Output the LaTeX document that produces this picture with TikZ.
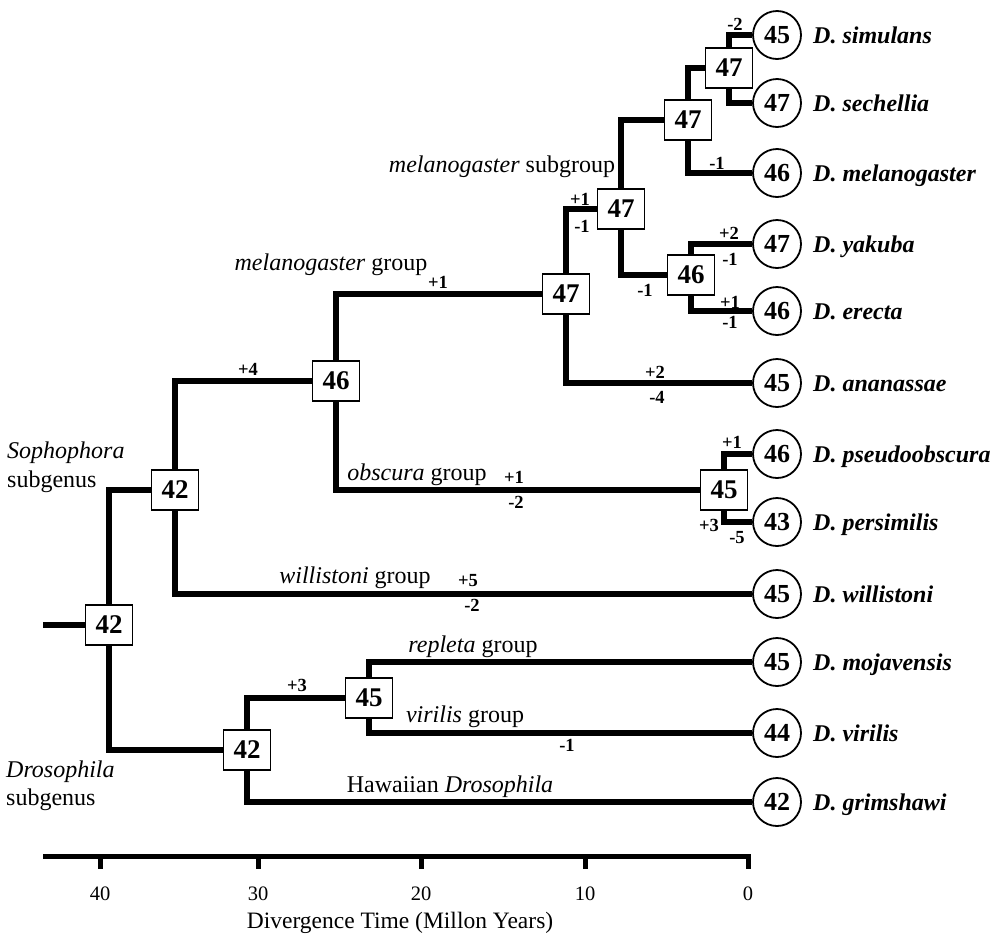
\documentclass[tikz,border=0pt]{standalone}
\usepackage{fontspec}
\setmainfont{Liberation Serif}
\begin{document}
\begin{tikzpicture}[x=1pt,y=-1pt,
  br/.style={line width=5.5pt, line join=miter},
  brk/.style={line width=6.3pt, line join=miter},
  bx/.style={draw, line width=1.8pt, fill=white, minimum width=47pt, minimum height=40pt, inner sep=0pt, font=\fontsize{27}{28}\selectfont\bfseries},
  lf/.style={draw, circle, line width=1.8pt, fill=white, minimum size=48pt, inner sep=0pt, font=\fontsize{26}{28}\selectfont\bfseries},
  sp/.style={anchor=base west, font=\fontsize{24}{26}\selectfont\bfseries\itshape, inner sep=0pt},
  ch/.style={font=\fontsize{18.5}{20}\selectfont\bfseries, inner sep=0pt},
  gl/.style={anchor=base, font=\fontsize{24}{26}\selectfont, inner sep=0pt},
  sg/.style={anchor=base west, font=\fontsize{24}{26}\selectfont, inner sep=0pt},
  tl/.style={anchor=base, font=\fontsize{20.5}{22}\selectfont, inner sep=0pt},
]
\useasboundingbox (0,0) rectangle (1000,940);

% internal nodes
\node[bx] (root) at (109,625) {42};
\node[bx] (sop) at (175,490) {42};
\node[bx] (dro) at (247,750) {42};
\node[bx] (n46) at (336,381) {46};
\node[bx] (mg47) at (566,294) {47};
\node[bx] (sub47) at (621,209) {47};
\node[bx] (top47) at (688,120) {47};
\node[bx] (ss47) at (729,68) {47};
\node[bx] (ye46) at (691,275) {46};
\node[bx] (ob45) at (724,490) {45};
\node[bx] (rv45) at (369,698) {45};
\coordinate (stub) at (43,625);

% leaves
\node[lf] (sim) at (777,35) {45};
\node[lf] (sec) at (777,103) {47};
\node[lf] (mel) at (777,173) {46};
\node[lf] (yak) at (777,244) {47};
\node[lf] (ere) at (777,311) {46};
\node[lf] (ana) at (777,383) {45};
\node[lf] (pse) at (777,454) {46};
\node[lf] (per) at (777,522) {43};
\node[lf] (wil) at (777,594) {45};
\node[lf] (moj) at (777,662) {45};
\node[lf] (vir) at (777,733) {44};
\node[lf] (gri) at (777,802) {42};

% species names
\node[sp] at (813,43) {D. simulans};
\node[sp] at (813,111) {D. sechellia};
\node[sp] at (813,181) {D. melanogaster};
\node[sp] at (813,252) {D. yakuba};
\node[sp] at (813,319) {D. erecta};
\node[sp] at (813,391) {D. ananassae};
\node[sp] at (813,462) {D. pseudoobscura};
\node[sp] at (813,530) {D. persimilis};
\node[sp] at (813,602) {D. willistoni};
\node[sp] at (813,670) {D. mojavensis};
\node[sp] at (813,741) {D. virilis};
\node[sp] at (813,810) {D. grimshawi};

% branches
\draw[br] (stub) -- (root);
\draw[br] (root) |- (sop);
\draw[br] (root) |- (dro);
\draw[br] (sop) |- (n46);
\draw[br] (sop) |- (wil);
\draw[brk] (n46) |- (mg47);
\draw[brk] (n46) |- (ob45);
\draw[br] (mg47) |- (sub47);
\draw[br] (mg47) |- (ana);
\draw[br] (sub47) |- (top47);
\draw[br] (sub47) |- (ye46);
\draw[br] (top47) |- (ss47);
\draw[br] (top47) |- (mel);
\draw[br] (ss47) |- (sim);
\draw[br] (ss47) |- (sec);
\draw[br] (ye46) |- (yak);
\draw[br] (ye46) |- (ere);
\draw[br] (ob45) |- (pse);
\draw[br] (ob45) |- (per);
\draw[br] (dro) |- (rv45);
\draw[br] (dro) |- (gri);
\draw[br] (rv45) |- (moj);
\draw[br] (rv45) |- (vir);

% change labels
\node[ch] at (248,369) {+4};
\node[ch] at (438,282) {+1};
\node[ch] at (580,199) {+1};
\node[ch] at (582,226) {-1};
\node[ch] at (735,24) {-2};
\node[ch] at (717,163) {-1};
\node[ch] at (645,290) {-1};
\node[ch] at (729,233) {+2};
\node[ch] at (730,259) {-1};
\node[ch] at (730,302) {+1};
\node[ch] at (730,322) {-1};
\node[ch] at (655,372) {+2};
\node[ch] at (657,397) {-4};
\node[ch] at (514,477) {+1};
\node[ch] at (516,502) {-2};
\node[ch] at (732,442) {+1};
\node[ch] at (709,525) {+3};
\node[ch] at (737,538) {-5};
\node[ch] at (468,581) {+5};
\node[ch] at (472,605) {-2};
\node[ch] at (297,685) {+3};
\node[ch] at (567,745) {-1};

% group labels
\node[gl] at (331,270) {\textit{melanogaster} group};
\node[gl] at (502,172) {\textit{melanogaster} subgroup};
\node[gl] at (417,480) {\textit{obscura} group};
\node[gl] at (355,583) {\textit{willistoni} group};
\node[gl] at (473,652) {\textit{repleta} group};
\node[gl] at (465,722) {\textit{virilis} group};
\node[gl] at (450,792) {Hawaiian \textit{Drosophila}};
\node[sg] at (7,458) {\textit{Sophophora}};
\node[sg] at (7,487) {subgenus};
\node[sg] at (6,777) {\textit{Drosophila}};
\node[sg] at (6,805) {subgenus};

% axis
\coordinate (axL) at (43,856);
\coordinate (axR) at (750.5,856);
\draw[line width=5pt] (axL) -- (axR);
\foreach \xx/\lab in {100/40, 258/30, 421/20, 585/10, 748/0} {
  \coordinate (tk\lab) at (\xx,856);
  \draw[line width=5pt] (tk\lab) -- ++(0,13);
  \node[tl] at (\xx,900) {\lab};
}
\node[tl, font=\fontsize{23.5}{25}\selectfont] at (400,928) {Divergence Time (Millon Years)};
\end{tikzpicture}
\end{document}
